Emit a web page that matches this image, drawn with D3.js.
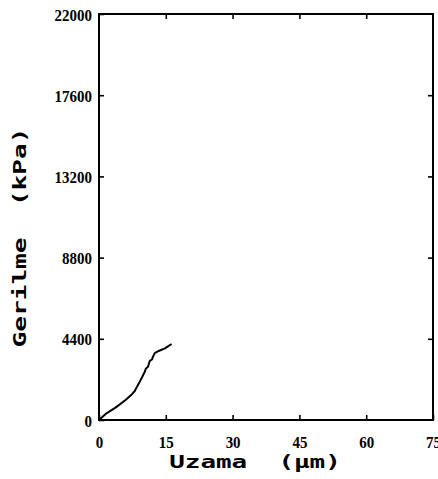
<!DOCTYPE html>
<html>
<head>
<meta charset="utf-8">
<script src="https://cdn.jsdelivr.net/npm/d3@7/dist/d3.min.js"></script>
<style>
  html, body { margin: 0; padding: 0; background: #fff; }
  svg { display: block; }
  .title { white-space: pre; }
</style>
</head>
<body>
<script>
// Stress–strain record: elongation (µm) against stress (kPa)
const strain = [0, 1.5, 3.7, 5.9, 7.4, 8.0, 8.3, 9.0, 9.3, 9.6, 10.0, 10.3, 10.5, 11.0, 11.2, 11.4, 11.9, 12.1, 12.5, 13.4, 14.8, 16.3];
const stress = [0, 330, 670, 1070, 1400, 1560, 1700, 2000, 2150, 2280, 2480, 2620, 2780, 2880, 3050, 3200, 3280, 3420, 3620, 3740, 3880, 4120];

const xTicks = [0, 15, 30, 45, 60, 75];
const xTickLabels = ["0", "15", "30", "45", "60", "75"];
const yTicks = [0, 4400, 8800, 13200, 17600, 22000];
const yTickLabels = ["0", "4400", "8800", "13200", "17600", "22000"];

const xTitle = "Uzama  (\u03bcm)";
const yTitle = "Gerilme  (kPa)";

const W = 438, H = 479;
const box = { left: 99, top: 14, right: 433, bottom: 420 };

const x = d3.scaleLinear().domain([0, 75]).range([box.left, box.right]);
const y = d3.scaleLinear().domain([0, 22000]).range([box.bottom, box.top]);

const svg = d3.select("body").append("svg")
  .attr("width", W).attr("height", H)
  .attr("viewBox", `0 0 ${W} ${H}`);

const tickFont = "'Liberation Serif', 'DejaVu Serif', serif";
const titleFont = "'DejaVu Sans Mono', 'Liberation Mono', monospace";

// inward ticks on all four sides
function styleAxis(g) {
  g.select(".domain").remove();
  g.selectAll(".tick line").attr("stroke", "#000").attr("stroke-width", 1.6);
}

// narrow bold numerals
function styleTickText(sel) {
  sel.attr("font-family", tickFont).attr("font-weight", "bold")
     .attr("font-size", 17).attr("fill", "#000")
     .attr("transform", "scale(0.88,1)");
}

svg.append("g")
  .attr("transform", `translate(0,${box.bottom})`)
  .call(d3.axisBottom(x).tickValues(xTicks).tickSize(-5).tickSizeOuter(0)
        .tickFormat((d, i) => xTickLabels[i]))
  .call(styleAxis)
  .call(g => g.selectAll(".tick text")
    .attr("y", 28.5).attr("dy", null)
    .call(styleTickText));

svg.append("g")
  .attr("transform", `translate(${box.left},0)`)
  .call(d3.axisLeft(y).tickValues(yTicks).tickSize(-5).tickSizeOuter(0)
        .tickFormat((d, i) => yTickLabels[i]))
  .call(styleAxis)
  .call(g => g.selectAll(".tick text")
    .attr("x", -8).attr("dy", "0.36em")
    .call(styleTickText));

svg.append("g")
  .attr("transform", `translate(0,${box.top})`)
  .call(d3.axisTop(x).tickValues(xTicks.slice(1, -1)).tickSize(-5).tickSizeOuter(0).tickFormat(""))
  .call(styleAxis);

svg.append("g")
  .attr("transform", `translate(${box.right},0)`)
  .call(d3.axisRight(y).tickValues(yTicks.slice(1, -1)).tickSize(-5).tickSizeOuter(0).tickFormat(""))
  .call(styleAxis);

// plot frame
svg.append("rect")
  .attr("x", box.left).attr("y", box.top)
  .attr("width", box.right - box.left).attr("height", box.bottom - box.top)
  .attr("fill", "none").attr("stroke", "#000").attr("stroke-width", 2);

// curve
const line = d3.line().x((d, i) => x(strain[i])).y(d => y(d));
svg.append("path")
  .datum(stress)
  .attr("d", line)
  .attr("fill", "none").attr("stroke", "#000").attr("stroke-width", 2)
  .attr("stroke-linejoin", "round");

// axis titles: wide blocky monospace lettering
svg.append("text")
  .attr("class", "title")
  .attr("transform", "translate(255,468) scale(1.44,1)")
  .attr("text-anchor", "middle")
  .attr("font-family", titleFont).attr("font-weight", "bold")
  .attr("font-size", 18)
  .attr("fill", "#000")
  .text(xTitle);

svg.append("text")
  .attr("class", "title")
  .attr("transform", "translate(26,237.5) rotate(-90) scale(1.45,1)")
  .attr("text-anchor", "middle")
  .attr("font-family", titleFont).attr("font-weight", "bold")
  .attr("font-size", 18)
  .attr("fill", "#000")
  .text(yTitle);
</script>
</body>
</html>
